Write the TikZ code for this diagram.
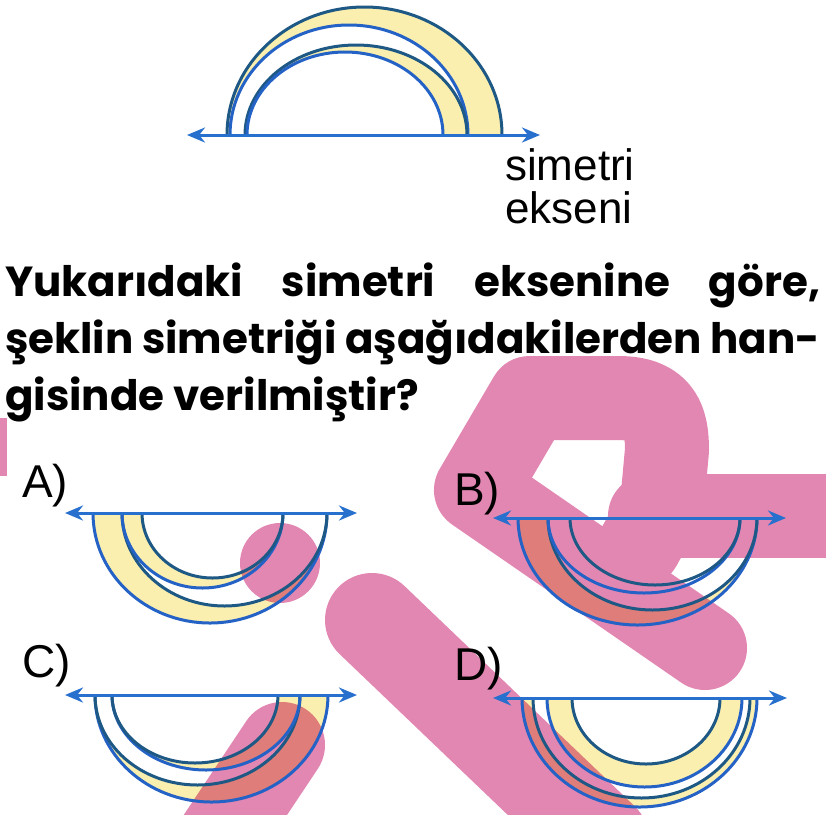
\documentclass[tikz,border=0pt]{standalone}
\usepackage{fontspec}
\setmainfont{Liberation Sans}
\newfontfamily\quizfont{Poppins}
\usetikzlibrary{arrows.meta}

\definecolor{axisblue}{RGB}{40,112,205}
\definecolor{arcblue}{RGB}{36,98,198}
\definecolor{arcteal}{RGB}{30,88,132}
\definecolor{sand}{RGB}{251,239,176}
\definecolor{wmpink}{RGB}{226,134,178}

\tikzset{
  axisline/.style={draw=axisblue, line width=3pt, {Stealth[length=18pt,width=15pt]}-{Stealth[length=18pt,width=15pt]}},
  arcline/.style={line width=3pt},
  bandfill/.style={fill=sand},
  wmark/.style={draw=wmpink, line width=84pt, line cap=round, line join=round},
  optlbl/.style={font=\fontsize{46}{46}\selectfont, anchor=base west, inner sep=0pt},
  axislbl/.style={font=\fontsize{44}{44}\selectfont, anchor=base west, inner sep=0pt},
  qline/.style={font=\quizfont\bfseries\fontsize{42}{50}\selectfont, anchor=base west, inner sep=0pt},
}

% half ellipse on an axis: #1 axis y, #2 end angle (0 up, 360 down), #3 left foot, #4 right foot, #5 depth, #6 colour
\newcommand{\halfarc}[6]{\draw[arcline,#6] (#3,#1) arc[start angle=180, end angle=#2, x radius={((#4)-(#3))*0.5pt}, y radius={(#5)*1pt}];}
% band between outer half ellipse (#3,#4,#5) and inner one (#6,#7,#8)
\newcommand{\halfband}[8]{\fill[bandfill] (#3,#1) arc[start angle=180, end angle=#2, x radius={((#4)-(#3))*0.5pt}, y radius={(#5)*1pt}]
  -- (#7,#1) arc[start angle=#2, end angle=180, x radius={((#7)-(#6))*0.5pt}, y radius={(#8)*1pt}] -- cycle;}

\begin{document}
\begin{tikzpicture}[x=1pt,y=-1pt]
\useasboundingbox (0,0) rectangle (826,814);

% pink stamp
\begin{scope}
\clip (0,0) rectangle (826,814);
\draw[wmark] (705,648) -- (476,490) -- (530,398) -- (618,398) .. controls (660,398) and (667,420) .. (667,450) -- (662,505) -- (640,545);
\draw[wmark] (650,516) -- (860,516);
\draw[wmark, line width=94pt] (372,620) -- (602,840);
\draw[wmark, line width=86pt] (282,745) -- (212,850);
\fill[wmpink] (280,563) circle[radius=40pt];
\fill[wmpink] (0,418) rectangle (7,476);
\end{scope}

% yellow bands
\begin{scope}[blend mode=multiply]
\halfband{135}{0}{227}{502}{128}{230}{468}{110}
\halfband{135}{0}{245}{467}{90}{247}{443}{83}
\halfband{513}{360}{93}{327}{110}{122}{327}{93}
\halfband{513}{360}{122}{283}{75}{142}{283}{65}
\halfband{518}{360}{518}{757}{107}{548}{757}{92}
\halfband{695}{360}{95}{328}{107}{95}{300}{90}
\halfband{695}{360}{112}{300}{75}{112}{278}{68}
\halfband{698}{360}{522}{757}{109}{533}{750}{100}
\halfband{698}{360}{547}{742}{89}{572}{720}{66}
\end{scope}

% arcs
\foreach \l/\r/\d/\c in {227/502/128/arcteal,230/468/110/arcblue,245/467/90/arcteal,247/443/83/arcblue}
  {\halfarc{135}{0}{\l}{\r}{\d}{\c}}
\foreach \l/\r/\d/\c in {93/327/110/arcblue,122/327/93/arcteal,122/283/75/arcblue,142/283/65/arcteal}
  {\halfarc{513}{360}{\l}{\r}{\d}{\c}}
\foreach \l/\r/\d/\c in {518/757/107/arcblue,548/757/92/arcteal,548/740/75/arcblue,570/740/67/arcteal}
  {\halfarc{518}{360}{\l}{\r}{\d}{\c}}
\foreach \l/\r/\d/\c in {95/328/107/arcblue,95/300/90/arcteal,112/300/75/arcblue,112/278/68/arcteal}
  {\halfarc{695}{360}{\l}{\r}{\d}{\c}}
\foreach \l/\r/\d/\c in {522/757/109/arcblue,533/750/100/arcteal,547/742/89/arcblue,572/720/66/arcteal}
  {\halfarc{698}{360}{\l}{\r}{\d}{\c}}

% symmetry axes
\draw[axisline] (187,135) -- (540,135);
\draw[axisline] (65,513) -- (357,513);
\draw[axisline] (493,518) -- (786,518);
\draw[axisline] (65,695) -- (357,695);
\draw[axisline] (493,698) -- (787,698);

% texts
\node[axislbl] (simetri) at (505,180) {simetri};
\node[axislbl] (ekseni) at (505,223) {ekseni};
\node[qline] (q1) at (5,296) {\makebox[815pt][s]{Yukarıdaki simetri eksenine göre,}};
\node[qline] (q2) at (5,353) {\makebox[815pt][s]{şeklin simetriği aşağıdakilerden han-}};
\node[qline] (q3) at (5,410) {gisinde verilmiştir?};
\node[optlbl] (optA) at (22,497) {A)};
\node[optlbl] (optB) at (454,505) {B)};
\node[optlbl] (optC) at (22,677) {C)};
\node[optlbl] (optD) at (454,680) {D)};
\end{tikzpicture}
\end{document}
